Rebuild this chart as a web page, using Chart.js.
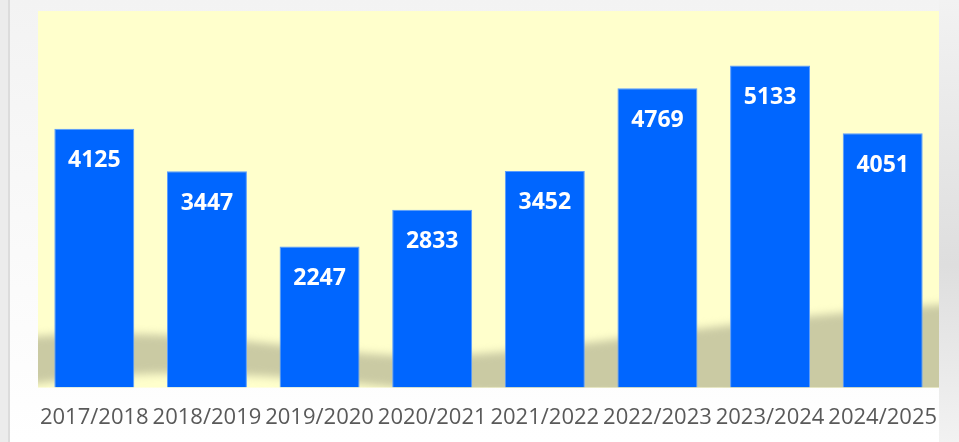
<!DOCTYPE html>
<html>
<head>
<meta charset="utf-8">
<script src="https://cdn.jsdelivr.net/npm/chart.js@4/dist/chart.umd.min.js"></script>
<style>
  html, body { margin: 0; padding: 0; }
  body {
    width: 959px; height: 442px; overflow: hidden;
    background: linear-gradient(to bottom, #f3f3f3 0%, #f8f8f8 40%, #ffffff 100%);
    position: relative;
  }
  #leftStrip {
    position: absolute; left: 0; top: 0; width: 8px; height: 442px;
    background: #ececec; border-right: 2px solid #dcdcdc;
  }
  #rightShade {
    position: absolute; right: 0; top: 0; width: 20px; height: 442px;
    background: linear-gradient(to bottom, #f2f2f2 0%, #dedede 60%, #f2f2f2 100%);
  }
  #wrap { position: absolute; left: 0; top: 0; width: 959px; height: 442px; }
</style>
</head>
<body>
<div id="leftStrip"></div>
<div id="rightShade"></div>
<div id="wrap"><canvas id="seasonChart"></canvas></div>
<script>
const seasons = ['2017/2018', '2018/2019', '2019/2020', '2020/2021', '2021/2022', '2022/2023', '2023/2024', '2024/2025'];
const counts = [4125, 3447, 2247, 2833, 3452, 4769, 5133, 4051];

// plot area fill plus the soft shadow ribbon behind the bars
const plotBackground = {
    id: 'plotBackground',
    beforeDatasetsDraw(chart) {
        const { ctx, chartArea: a } = chart;
        ctx.save();
        ctx.fillStyle = '#ffffcc';
        ctx.fillRect(a.left, a.top, a.right - a.left, a.bottom - a.top);

        ctx.beginPath();
        ctx.rect(a.left, a.top, a.right - a.left, a.bottom - a.top);
        ctx.clip();
        ctx.filter = 'blur(4px)';
        ctx.fillStyle = '#cacaa3';
        const w = a.right - a.left;
        const b = a.bottom;
        const x = f => a.left + f * w;
        ctx.beginPath();
        ctx.moveTo(x(-0.02), b - 50);
        ctx.bezierCurveTo(x(0.15), b - 64, x(0.3), b - 36, x(0.4), b - 32);
        ctx.bezierCurveTo(x(0.55), b - 28, x(0.7), b - 64, x(1.02), b - 84);
        ctx.lineTo(x(1.02), b + 10);
        ctx.lineTo(x(0.5), b + 6);
        ctx.bezierCurveTo(x(0.4), b + 4, x(0.3), b - 14, x(0.15), b - 14);
        ctx.bezierCurveTo(x(0.08), b - 14, x(0.02), b - 6, x(-0.02), b - 2);
        ctx.closePath();
        ctx.fill();
        ctx.restore();
    }
};

const barValues = {
    id: 'barValues',
    afterDatasetsDraw(chart) {
        const { ctx } = chart;
        const meta = chart.getDatasetMeta(0);
        ctx.save();
        ctx.fillStyle = '#ffffff';
        ctx.font = 'bold 23px "Open Sans", "DejaVu Sans", sans-serif';
        ctx.textAlign = 'center';
        ctx.textBaseline = 'middle';
        meta.data.forEach((bar, i) => {
            ctx.fillText(String(counts[i]), bar.x, bar.y + 32);
        });
        ctx.restore();
    }
};

new Chart(document.getElementById('seasonChart'), {
    type: 'bar',
    data: {
        labels: seasons,
        datasets: [{
            data: counts,
            backgroundColor: '#0066ff',
            borderColor: '#5a9cff',
            borderWidth: 1,
            categoryPercentage: 1,
            barPercentage: 0.71
        }]
    },
    options: {
        responsive: true,
        maintainAspectRatio: false,
        animation: false,
        layout: { padding: { left: 38, right: 20, top: 11, bottom: -6 } },
        plugins: {
            legend: { display: false },
            tooltip: { enabled: false }
        },
        scales: {
            x: {
                grid: { display: false, drawTicks: false },
                border: { display: false },
                ticks: {
                    color: '#595959',
                    padding: 17,
                    maxRotation: 0,
                    autoSkip: false,
                    font: { family: '"Open Sans", "DejaVu Sans", sans-serif', size: 22 }
                }
            },
            y: {
                display: false,
                min: 0,
                max: 6000
            }
        }
    },
    plugins: [plotBackground, barValues]
});
</script>
</body>
</html>
